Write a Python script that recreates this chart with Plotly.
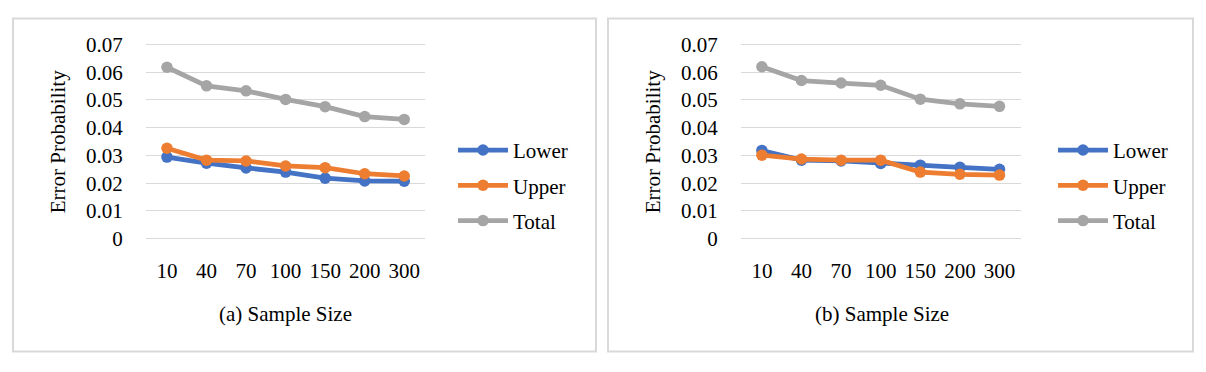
import plotly.graph_objects as go

# ---- data ----
sample_sizes = ["10", "40", "70", "100", "150", "200", "300"]
y_ticks = [0, 0.01, 0.02, 0.03, 0.04, 0.05, 0.06, 0.07]
y_tick_labels = ["0", "0.01", "0.02", "0.03", "0.04", "0.05", "0.06", "0.07"]

a_lower = [0.0294, 0.0272, 0.0255, 0.0240, 0.0218, 0.0208, 0.0207]
a_upper = [0.0326, 0.0283, 0.0280, 0.0262, 0.0256, 0.0234, 0.0226]
a_total = [0.0618, 0.0551, 0.0533, 0.0502, 0.0476, 0.0440, 0.0430]

b_lower = [0.0318, 0.0283, 0.0280, 0.0271, 0.0265, 0.0257, 0.0250]
b_upper = [0.0301, 0.0287, 0.0283, 0.0283, 0.0240, 0.0232, 0.0229]
b_total = [0.0620, 0.0570, 0.0561, 0.0553, 0.0503, 0.0486, 0.0477]

series_names = ["Lower", "Upper", "Total"]
colors = ["#4472C4", "#ED7D31", "#A5A5A5"]
panel_titles = ["(a) Sample Size", "(b) Sample Size"]

W, H = 1206, 372
FONT = "Liberation Serif, Times New Roman, serif"
FS = 21

def px_x(p):
    return p / W

def px_y(p):
    return 1 - p / H

fig = go.Figure()

panels = [
    (a_lower, a_upper, a_total, "x", "y", "legend"),
    (b_lower, b_upper, b_total, "x2", "y2", "legend2"),
]
for lower, upper, total, xa, ya, lg in panels:
    for name, vals, col in zip(series_names, [lower, upper, total], colors):
        fig.add_trace(go.Scatter(
            x=sample_sizes, y=vals, name=name, mode="lines+markers",
            line=dict(color=col, width=4.75),
            marker=dict(color=col, size=11.5),
            xaxis=xa, yaxis=ya, legend=lg, legendgroup=lg + name,
        ))

y_dom = [px_y(244.2), px_y(34.4)]
axis_common = dict(
    type="category", showgrid=False, showline=False, zeroline=False,
    ticks="", tickfont=dict(family=FONT, size=FS, color="#000000"),
    ticklabelstandoff=15,
)
yaxis_common = dict(
    range=[-0.001, 0.071], tickvals=y_ticks, ticktext=y_tick_labels,
    showgrid=True, gridcolor="#D9D9D9", gridwidth=1,
    showline=False, zeroline=False, ticks="",
    tickfont=dict(family=FONT, size=FS, color="#000000"),
    ticklabelstandoff=22, domain=y_dom,
)

legend_common = dict(
    xanchor="left", yanchor="top",
    font=dict(family=FONT, size=FS, color="#000000"),
    itemwidth=50, tracegroupgap=5, traceorder="grouped",
    bgcolor="rgba(0,0,0,0)",
)

fig.update_layout(
    width=W, height=H, autosize=False,
    margin=dict(l=0, r=0, t=0, b=0),
    paper_bgcolor="white", plot_bgcolor="white",
    showlegend=True,
    xaxis=dict(domain=[px_x(145.8), px_x(425.4)], anchor="y", **axis_common),
    yaxis=dict(anchor="x", **yaxis_common),
    xaxis2=dict(domain=[px_x(740.7), px_x(1020.7)], anchor="y2", **axis_common),
    yaxis2=dict(anchor="x2", **yaxis_common),
    legend=dict(x=px_x(453), y=px_y(127), **legend_common),
    legend2=dict(x=px_x(1053), y=px_y(127), **legend_common),
)

# panel borders
for x0, x1 in [(13, 596), (608, 1193)]:
    fig.add_shape(type="rect", xref="paper", yref="paper",
                  x0=px_x(x0), x1=px_x(x1), y0=px_y(360), y1=px_y(10),
                  line=dict(color="#D9D9D9", width=2), fillcolor="rgba(0,0,0,0)")

# axis titles
for xc, title in [(285, panel_titles[0]), (882, panel_titles[1])]:
    fig.add_annotation(text=title, xref="paper", yref="paper",
                       x=px_x(xc), y=px_y(321), showarrow=False,
                       xanchor="center", yanchor="middle",
                       font=dict(family=FONT, size=FS, color="#000000"))
for xc in [58, 653]:
    fig.add_annotation(text="Error Probability", xref="paper", yref="paper",
                       x=px_x(xc), y=px_y(140), showarrow=False, textangle=-90,
                       xanchor="center", yanchor="middle",
                       font=dict(family=FONT, size=FS, color="#000000"))

fig.write_html(
    "out.html",
    config={"displayModeBar": False, "staticPlot": True},
    post_script=(
        "document.documentElement.style.margin='0';"
        "document.body.style.margin='0';"
        "document.body.style.overflow='hidden';"
        "var d=document.getElementById('{plot_id}');"
        "d.style.position='fixed';d.style.top='0px';d.style.left='0px';"
    ),
)
